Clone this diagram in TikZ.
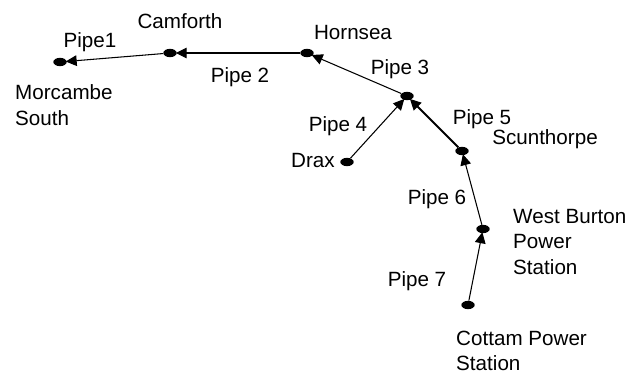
\documentclass[tikz,border=0pt]{standalone}
\usepackage{fontspec}
\setmainfont{Liberation Sans}
\usetikzlibrary{arrows.meta,shapes.geometric}

\tikzset{
  site/.style={ellipse,fill,inner sep=0pt,minimum width=0.4cm,minimum height=0.25cm},
  pipe/.style={-{Triangle[length=0.33cm,width=0.32cm]},line width=0.9pt,shorten >=-1pt},
  lbl/.style={inner sep=0pt,font=\fontsize{17.6}{22}\selectfont}
}

\begin{document}
\begin{tikzpicture}[x=0.03cm,y=-0.03cm]
\useasboundingbox (0,0) rectangle (643,374);
\node[site] (morc) at (60,62) {};
\node[site] (camf) at (170,53) {};
\node[site] (horn) at (307,53) {};
\node[site] (junc) at (407,96) {};
\node[site] (drax) at (347,162) {};
\node[site] (scun) at (462,151) {};
\node[site] (west) at (483,229) {};
\node[site] (cott) at (468,305) {};
\draw[pipe] (camf) -- (morc);
\draw[pipe] (horn) -- (camf);
\draw[pipe] (junc) -- (horn);
\draw[pipe] (drax) -- (junc);
\draw[pipe,line width=1.7pt] (scun) -- (junc);
\draw[pipe] (west) -- (scun);
\draw[pipe] (cott) -- (west);
\node[lbl] (p1) at (90,42) {Pipe1};
\node[lbl] (p2) at (240,77) {Pipe 2};
\node[lbl] (p3) at (400,69) {Pipe 3};
\node[lbl] (p4) at (338,126) {Pipe 4};
\node[lbl] (p5) at (482,119) {Pipe 5};
\node[lbl] (p6) at (437,199) {Pipe 6};
\node[lbl] (p7) at (417,281) {Pipe 7};
\node[lbl] (lcamf) at (180,21) {Camforth};
\node[lbl] (lhorn) at (353,33) {Hornsea};
\node[lbl] (lscun) at (545,139) {Scunthorpe};
\node[lbl,anchor=east] (ldrax) at (335,161) {Drax};
\node[lbl,anchor=west,align=left] (lmorc) at (15,105) {Morcambe\\South};
\node[lbl,anchor=west,align=left] (lwest) at (513,242) {West Burton\\Power\\Station};
\node[lbl,anchor=west,align=left] (lcott) at (456,351) {Cottam Power\\Station};
\end{tikzpicture}
\end{document}
